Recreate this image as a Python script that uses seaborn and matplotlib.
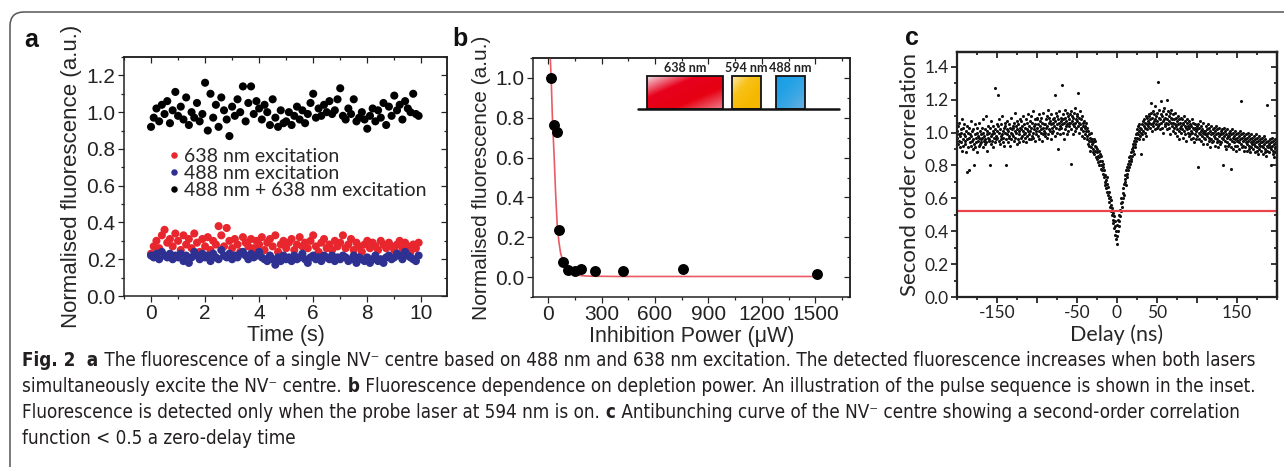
import numpy as np
import pandas as pd
import seaborn as sns
import matplotlib
matplotlib.use("Agg")
import matplotlib.pyplot as plt
from matplotlib import font_manager
from matplotlib.ticker import MultipleLocator, FixedLocator
from matplotlib.patches import Rectangle, FancyBboxPatch
from matplotlib.colors import LinearSegmentedColormap

# ---------------- data ----------------
# panel a: sampled every 0.1 s
dt_a = 0.1
both_a = [0.92, 0.97, 1.02, 0.95, 1.04, 0.99, 1.06, 0.94, 1.01, 1.11,
          0.98, 1.03, 0.96, 1.08, 0.93, 1.00, 0.97, 1.05, 0.95, 0.99,
          1.16, 0.90, 1.10, 0.97, 1.04, 0.92, 1.08, 1.01, 0.96, 0.87,
          1.03, 0.98, 1.07, 1.00, 1.14, 0.95, 1.05, 1.14, 0.99, 1.06,
          1.02, 0.96, 1.04, 1.00, 0.93, 1.07, 0.97, 0.92, 1.01, 0.94,
          0.95, 1.00, 0.93, 0.98, 1.03, 0.96, 1.01, 0.94, 0.99, 1.05,
          1.10, 0.97, 1.02, 0.98, 1.04, 1.00, 1.06, 0.99, 1.01, 1.07,
          1.13, 0.98, 0.96, 1.02, 0.99, 1.07, 0.95, 0.97, 1.00, 0.96,
          0.91, 0.98, 1.02, 0.95, 1.01, 0.97, 1.05, 0.93, 1.03, 0.98,
          1.09, 1.01, 1.04, 0.96, 1.06, 1.02, 1.00, 1.10, 0.99, 0.98]
red_a = [0.23, 0.27, 0.30, 0.26, 0.33, 0.36, 0.29, 0.31, 0.27, 0.34,
         0.30, 0.25, 0.33, 0.28, 0.31, 0.26, 0.34, 0.29, 0.24, 0.31,
         0.27, 0.32, 0.25, 0.30, 0.28, 0.38, 0.33, 0.27, 0.37, 0.30,
         0.26, 0.31, 0.28, 0.24, 0.32, 0.29, 0.27, 0.31, 0.26, 0.30,
         0.28, 0.32, 0.25, 0.29, 0.31, 0.27, 0.33, 0.24, 0.28, 0.30,
         0.26, 0.29, 0.31, 0.25, 0.28, 0.32, 0.27, 0.29, 0.26, 0.30,
         0.33, 0.27, 0.24, 0.29, 0.31, 0.26, 0.28, 0.25, 0.30, 0.27,
         0.29, 0.33, 0.26, 0.28, 0.31, 0.25, 0.29, 0.27, 0.24, 0.28,
         0.30, 0.26, 0.29, 0.27, 0.25, 0.30, 0.28, 0.26, 0.29, 0.27,
         0.25, 0.28, 0.30, 0.26, 0.29, 0.27, 0.24, 0.28, 0.26, 0.29]
blue_a = [0.22, 0.21, 0.23, 0.20, 0.24, 0.22, 0.21, 0.23, 0.20, 0.22,
          0.21, 0.23, 0.19, 0.22, 0.18, 0.21, 0.24, 0.22, 0.20, 0.23,
          0.21, 0.22, 0.19, 0.23, 0.21, 0.20, 0.25, 0.22, 0.21, 0.23,
          0.20, 0.22, 0.21, 0.23, 0.24, 0.22, 0.20, 0.23, 0.21, 0.22,
          0.24, 0.21, 0.20, 0.19, 0.22, 0.20, 0.17, 0.21, 0.19, 0.22,
          0.20, 0.21, 0.19, 0.22, 0.20, 0.21, 0.23, 0.20, 0.18, 0.21,
          0.22, 0.20, 0.21, 0.19, 0.22, 0.21, 0.20, 0.22, 0.19, 0.21,
          0.20, 0.22, 0.21, 0.19, 0.20, 0.22, 0.18, 0.21, 0.20, 0.19,
          0.21, 0.18, 0.20, 0.22, 0.19, 0.20, 0.18, 0.21, 0.22, 0.20,
          0.21, 0.23, 0.22, 0.20, 0.24, 0.22, 0.21, 0.20, 0.19, 0.22]
labels_a = ["638 nm excitation", "488 nm excitation", "488 nm + 638 nm excitation"]

# panel b: depletion power (uW) vs normalised fluorescence, plus fitted curve
power_b = [15, 34, 47, 62, 84, 112, 150, 187, 262, 418, 757, 1509]
fluor_b = [1.00, 0.766, 0.727, 0.237, 0.075, 0.037, 0.033, 0.043, 0.033, 0.033, 0.043, 0.017]
fit_power_b = [12, 17, 24, 34, 42, 51, 60, 70, 85, 103, 125, 150, 180, 220, 280, 400, 800, 1510]
fit_fluor_b = [1.10, 1.00, 0.80, 0.60, 0.42, 0.26, 0.18, 0.12, 0.075, 0.045, 0.025, 0.014,
               0.008, 0.005, 0.004, 0.003, 0.003, 0.003]

# panel c: g2 histogram, bins of 0.5 ns from -200 ns, values in hundredths
bin0_c, binw_c = -200.0, 0.5
g2_c = [
    97, 101, 93, 104, 95, 99, 106, 91, 98, 102, 94, 100, 108, 89, 96, 103, 92, 99, 105, 95,
    98, 93, 101, 88, 76, 104, 96, 100, 91, 77, 97, 103, 94, 99, 107, 92, 98, 95, 101, 90,
    96, 102, 93, 80, 99, 105, 91, 97, 94, 100, 88, 103, 95, 98, 92, 106, 97, 93, 101, 96,
    99, 94, 103, 97, 91, 100, 108, 95, 98, 93, 102, 96, 110, 94, 99, 89, 101, 97, 104, 95,
    100, 96, 80, 103, 98, 93, 107, 99, 95, 101, 91, 104, 97, 100, 127, 94, 102, 98, 96, 105,
    101, 97, 104, 123, 95, 100, 108, 93, 102, 98, 105, 96, 99, 110, 94, 101, 97, 103, 92, 106,
    100, 104, 96, 80, 102, 99, 107, 94, 101, 97, 105, 98, 103, 92, 100, 109, 96, 102, 99, 104,
    103, 98, 106, 95, 101, 112, 97, 104, 100, 93, 107, 102, 96, 105, 99, 101, 94, 108, 103, 97,
    102, 107, 98, 104, 95, 101, 110, 99, 105, 97, 103, 100, 108, 94, 102, 106, 98, 111, 101, 96,
    104, 99, 107, 101, 96, 110, 103, 98, 106, 100, 113, 97, 104, 102, 108, 95, 105, 101, 99, 109,
    103, 108, 98, 105, 101, 111, 96, 104, 107, 100, 102, 109, 95, 106, 103, 99, 112, 101, 105, 98,
    105, 100, 108, 103, 97, 110, 104, 114, 99, 106, 102, 109, 101, 107, 96, 105, 111, 103, 100, 108,
    106, 101, 109, 104, 123, 98, 107, 112, 103, 100, 110, 105, 90, 108, 102, 106, 113, 99, 104, 109,
    107, 103, 129, 105, 100, 111, 108, 96, 106, 114, 102, 109, 104, 107, 99, 112, 105, 101, 110, 106,
    108, 104, 111, 106, 102, 113, 81, 107, 110, 105, 99, 109, 112, 104, 106, 115, 101, 108, 103, 110,
    107, 111, 104, 124, 106, 100, 109, 113, 105, 102, 108, 103, 110, 98, 106, 104, 101, 107, 97, 103,
    104, 99, 106, 101, 96, 103, 98, 93, 101, 95, 99, 92, 97, 89, 95, 100, 91, 96, 93, 88,
    94, 90, 96, 87, 92, 89, 95, 85, 91, 88, 84, 90, 86, 82, 89, 85, 80, 87, 83, 78,
    86, 80, 83, 77, 81, 75, 79, 73, 77, 70, 74, 68, 71, 66, 73, 64, 69, 62, 67, 60,
    64, 58, 61, 55, 59, 52, 56, 50, 54, 47, 51, 45, 49, 42, 46, 38, 43, 35, 40, 32,
    37, 44, 40, 47, 43, 50, 46, 53, 49, 57, 52, 60, 58, 55, 63, 60, 66, 62, 69, 72,
    70, 74, 68, 77, 73, 79, 75, 81, 77, 83, 79, 85, 81, 86, 83, 88, 84, 90, 86, 91,
    89, 93, 87, 95, 91, 97, 93, 99, 95, 100, 97, 102, 99, 104, 96, 101, 105, 98, 103, 100,
    102, 87, 105, 99, 107, 101, 96, 104, 108, 100, 106, 103, 110, 98, 105, 109, 102, 107, 104, 111,
    106, 110, 103, 108, 118, 105, 112, 101, 109, 106, 113, 104, 107, 111, 102, 116, 108, 105, 110, 103,
    107, 112, 104, 131, 109, 105, 114, 102, 108, 111, 106, 119, 103, 110, 107, 113, 100, 108, 115, 105,
    109, 104, 111, 106, 120, 102, 108, 113, 105, 110, 103, 107, 112, 99, 109, 106, 114, 104, 108, 101,
    106, 111, 103, 108, 100, 105, 112, 104, 109, 98, 107, 102, 110, 105, 101, 108, 96, 106, 103, 109,
    104, 100, 108, 102, 106, 97, 105, 110, 101, 104, 99, 107, 103, 95, 106, 102, 108, 100, 104, 98,
    103, 107, 99, 105, 101, 96, 104, 108, 100, 103, 97, 106, 102, 94, 105, 99, 103, 101, 96, 104,
    102, 98, 79, 105, 100, 96, 103, 107, 99, 101, 95, 104, 98, 102, 93, 100, 106, 97, 101, 99,
    101, 96, 104, 99, 93, 102, 98, 105, 100, 95, 103, 97, 91, 101, 99, 104, 96, 100, 94, 102,
    100, 95, 103, 98, 92, 101, 97, 104, 99, 94, 102, 96, 100, 91, 98, 103, 95, 99, 93, 101,
    99, 94, 102, 97, 80, 100, 96, 103, 98, 92, 101, 95, 99, 90, 97, 102, 94, 98, 92, 100,
    98, 93, 101, 96, 91, 99, 78, 102, 95, 97, 90, 100, 94, 98, 92, 101, 96, 89, 99, 95,
    97, 92, 100, 95, 90, 98, 94, 101, 96, 119, 93, 99, 91, 97, 95, 100, 92, 98, 89, 96,
    96, 91, 99, 94, 89, 97, 93, 100, 95, 90, 98, 92, 96, 88, 94, 99, 91, 97, 93, 95,
    95, 90, 98, 93, 88, 96, 92, 99, 94, 89, 97, 91, 95, 87, 93, 98, 90, 96, 92, 94,
    94, 89, 97, 92, 87, 95, 91, 98, 93, 88, 96, 90, 94, 86, 92, 117, 89, 95, 91, 93,
    93, 88, 96, 91, 80, 94, 90, 97, 92, 87, 95, 89, 93, 85, 91, 96, 88, 94, 90, 92,
]
g2_threshold = 0.52

caption_lines = [
    [("Fig. 2", True), ("  a", True),
     (" The fluorescence of a single NV\u207b centre based on 488 nm and 638 nm excitation. "
      "The detected fluorescence increases when both lasers", False)],
    [("simultaneously excite the NV\u207b centre.", False), (" b", True),
     (" Fluorescence dependence on depletion power. An illustration of the pulse sequence "
      "is shown in the inset.", False)],
    [("Fluorescence is detected only when the probe laser at 594 nm is on.", False), (" c", True),
     (" Antibunching curve of the NV\u207b centre showing a second-order correlation", False)],
    [("function < 0.5 a zero-delay time", False)],
]

# ---------------- figure ----------------
W, H = 1284, 467
sns.set_theme(style="ticks")
plt.rcParams["font.family"] = ["Liberation Sans", "DejaVu Sans"]
ARIAL = ["Liberation Sans", "DejaVu Sans"]
CALIBRI = ["Lato", "DejaVu Sans"]

# narrowest caption face available
names = {f.name for f in font_manager.fontManager.ttflist}
if "Liberation Sans Narrow" in names:
    CAPTION = dict(family=["Liberation Sans Narrow", "DejaVu Sans"])
elif "DejaVu Sans Condensed" in names or any(
        "Condensed" in f.fname and "DejaVuSans" in f.fname for f in font_manager.fontManager.ttflist):
    CAPTION = dict(family=["DejaVu Sans"], stretch="condensed")
else:
    CAPTION = dict(family=["Roboto", "DejaVu Sans"])

fig = plt.figure(figsize=(W / 100, H / 100), dpi=100)


def px_axes(left, top, right, bottom):
    return fig.add_axes([left / W, 1 - bottom / H, (right - left) / W, (bottom - top) / H])


def style_axes(ax, xmaj, xmin, ymaj, ymin, lw, family, size):
    ax.xaxis.set_major_locator(xmaj)
    ax.xaxis.set_minor_locator(xmin)
    ax.yaxis.set_major_locator(ymaj)
    ax.yaxis.set_minor_locator(ymin)
    ax.tick_params(which="both", direction="out", top=False, right=False,
                   width=lw * 0.8, colors="#222222", labelsize=size, pad=2)
    ax.tick_params(which="major", length=4)
    ax.tick_params(which="minor", length=2.5)
    for sp in ax.spines.values():
        sp.set_visible(True)
        sp.set_linewidth(lw)
        sp.set_color("#222222")
    top = ax.secondary_xaxis("top")
    top.xaxis.set_major_locator(xmaj)
    top.xaxis.set_minor_locator(xmin)
    top.tick_params(which="both", direction="in", labeltop=False, width=lw * 0.8, colors="#222222")
    top.tick_params(which="major", length=4)
    top.tick_params(which="minor", length=2.5)
    top.spines["top"].set_linewidth(lw)
    right = ax.secondary_yaxis("right")
    right.yaxis.set_major_locator(ymaj)
    right.yaxis.set_minor_locator(ymin)
    right.tick_params(which="both", direction="in", labelright=False, width=lw * 0.8, colors="#222222")
    right.tick_params(which="major", length=4)
    right.tick_params(which="minor", length=2.5)
    right.spines["right"].set_linewidth(lw)
    for lab in ax.get_xticklabels() + ax.get_yticklabels():
        lab.set_fontfamily(family)


# ---- panel a ----
ax_a = px_axes(124, 57, 447, 296)
time_a = np.round(np.arange(len(both_a)) * dt_a, 2)
df_a = pd.concat([
    pd.DataFrame({"t": time_a, "f": both_a, "series": labels_a[2]}),
    pd.DataFrame({"t": time_a, "f": red_a, "series": labels_a[0]}),
    pd.DataFrame({"t": time_a, "f": blue_a, "series": labels_a[1]}),
], ignore_index=True)
pal_a = {labels_a[0]: "#e8262d", labels_a[1]: "#2e3192", labels_a[2]: "#000000"}
sns.scatterplot(data=df_a, x="t", y="f", hue="series", hue_order=labels_a, palette=pal_a,
                s=34, linewidth=0, ax=ax_a)
ax_a.set_xlim(-1, 10.95)
ax_a.set_ylim(0, 1.3)
style_axes(ax_a, MultipleLocator(2), MultipleLocator(1), FixedLocator(np.arange(0, 1.21, 0.2)),
           MultipleLocator(0.1), 1.1, ARIAL, 15)
ax_a.set_yticks(np.arange(0, 1.21, 0.2))
ax_a.set_yticklabels([f"{v:.1f}" for v in np.arange(0, 1.21, 0.2)], family=ARIAL)
ax_a.set_xlabel("Time (s)", fontsize=15.5, family=ARIAL, labelpad=1)
ax_a.set_ylabel("Normalised fluorescence (a.u.)", fontsize=16, family=ARIAL, labelpad=3)
h, l = ax_a.get_legend_handles_labels()
ax_a.legend(h, l, loc="upper left", bbox_to_anchor=(0.095, 0.66), frameon=False,
            prop={"family": CALIBRI, "size": 14}, handletextpad=0.0, labelspacing=0.0,
            handlelength=1.0, borderpad=0, markerscale=0.8)

# ---- panel b ----
ax_b = px_axes(533, 58, 850, 297)
sns.lineplot(x=fit_power_b, y=fit_fluor_b, color="#ea5a64", linewidth=1.2, ax=ax_b)
sns.scatterplot(x=power_b, y=fluor_b, color="black", s=62, linewidth=0, ax=ax_b, zorder=3)
ax_b.set_xlim(-85, 1695)
ax_b.set_ylim(-0.1, 1.1)
style_axes(ax_b, MultipleLocator(300), MultipleLocator(150), FixedLocator(np.arange(0, 1.01, 0.2)),
           MultipleLocator(0.1), 1.1, ARIAL, 15)
ax_b.set_yticks(np.arange(0, 1.01, 0.2))
ax_b.set_yticklabels([f"{v:.1f}" for v in np.arange(0, 1.01, 0.2)], family=ARIAL)
ax_b.set_xlabel("Inhibition Power (\u03bcW)", fontsize=15.5, family=ARIAL, labelpad=1)
ax_b.set_ylabel("Normalised fluorescence (a.u.)", fontsize=15, family=ARIAL, labelpad=3)

# inset: pulse sequence sketch (figure pixel coordinates, y upwards)
ax_in = fig.add_axes([630 / W, 1 - 115 / H, 215 / W, 55 / H])
grad = np.add.outer(np.linspace(0, 1, 60), np.linspace(0, 1, 60)) / 2
boxes = [
    ("638 nm", 646.7, 722.7, ["#f3dbe2", "#e8001c", "#e60012", "#f07d8a"]),
    ("594 nm", 731.7, 760.7, ["#fcecb0", "#f8c21a", "#f6b900", "#f5b800"]),
    ("488 nm", 776.0, 805.0, ["#1b9de2", "#22a2e6", "#3fa8e4", "#6fb0df"]),
]
y0, y1 = H - 109, H - 76
for name, x0, x1, cols in boxes:
    cmap = LinearSegmentedColormap.from_list(name, cols)
    ax_in.imshow(grad, cmap=cmap, extent=(x0, x1, y0, y1), origin="upper", aspect="auto",
                 interpolation="bilinear", zorder=1)
    ax_in.add_patch(Rectangle((x0, y0), x1 - x0, y1 - y0, fill=False, edgecolor="#111111",
                              linewidth=1.3, zorder=2))
    ax_in.text((x0 + x1) / 2, y1 + 1.5, name, ha="center", va="bottom", fontsize=9,
               fontweight="bold", family=CALIBRI, color="#222222")
ax_in.plot([638, 839], [y0, y0], color="#111111", linewidth=1.8, zorder=3)
ax_in.set_xlim(630, 845)
ax_in.set_ylim(H - 115, H - 60)
ax_in.axis("off")

# ---- panel c ----
ax_c = px_axes(957, 52, 1277, 297)
delay_c = bin0_c + binw_c * np.arange(len(g2_c))
df_c = pd.DataFrame({"delay": delay_c, "g2": np.array(g2_c) / 100})
sns.scatterplot(data=df_c, x="delay", y="g2", color="#111111", s=5, linewidth=0, ax=ax_c)
ax_c.axhline(g2_threshold, color="#e8424a", linewidth=1.6)
ax_c.set_xlim(-200, 200)
ax_c.set_ylim(0, 1.49)
style_axes(ax_c, FixedLocator([-150, -100, -50, 0, 50, 100, 150]), MultipleLocator(25),
           FixedLocator(np.arange(0, 1.41, 0.2)), MultipleLocator(0.1), 1.6, CALIBRI, 12.5)
ax_c.set_xticks([-150, -100, -50, 0, 50, 100, 150])
ax_c.set_xticklabels(["-150", "", "-50", "0", "50", "", "150"], family=CALIBRI)
ax_c.set_yticks(np.arange(0, 1.41, 0.2))
ax_c.set_yticklabels([f"{v:.1f}" for v in np.arange(0, 1.41, 0.2)], family=CALIBRI)
ax_c.set_xlabel("Delay (ns)", fontsize=15.5, family=CALIBRI, labelpad=2)
ax_c.set_ylabel("Second order correlation", fontsize=16, family=CALIBRI, labelpad=3)

# panel letters
for letter, x, y in [("a", 31, 40), ("b", 460, 39), ("c", 912, 38)]:
    fig.text(x / W, 1 - y / H, letter, fontsize=18, fontweight="bold", family=ARIAL,
             ha="center", va="center", color="#111111")

# frame around the figure
frame = FancyBboxPatch((0.10, -0.5), 13.5, 4.55 + 0.5, boxstyle="round,pad=0,rounding_size=0.14",
                       transform=fig.dpi_scale_trans, fill=False, edgecolor="#555555",
                       linewidth=1.1, clip_on=False)
fig.add_artist(frame)

# caption: size chosen so the first line spans the same width as in the source
renderer = fig.canvas.get_renderer()


def draw_line(parts, x, y, size, visible=True):
    start = x
    made = []
    for text, bold in parts:
        t = fig.text(x / W, 1 - y / H, text, fontsize=size, fontweight="bold" if bold else "normal",
                     ha="left", va="center", color="#231f20", **CAPTION)
        x += t.get_window_extent(renderer).width
        made.append(t)
    if not visible:
        for t in made:
            t.remove()
    return x - start


probe = 15.5
width1 = draw_line(caption_lines[0], 22, 360, probe, visible=False)
cap_size = probe * 1233 / width1
for i, parts in enumerate(caption_lines):
    draw_line(parts, 22, 360 + i * 26, cap_size)

fig.savefig("out.png", dpi=100)
